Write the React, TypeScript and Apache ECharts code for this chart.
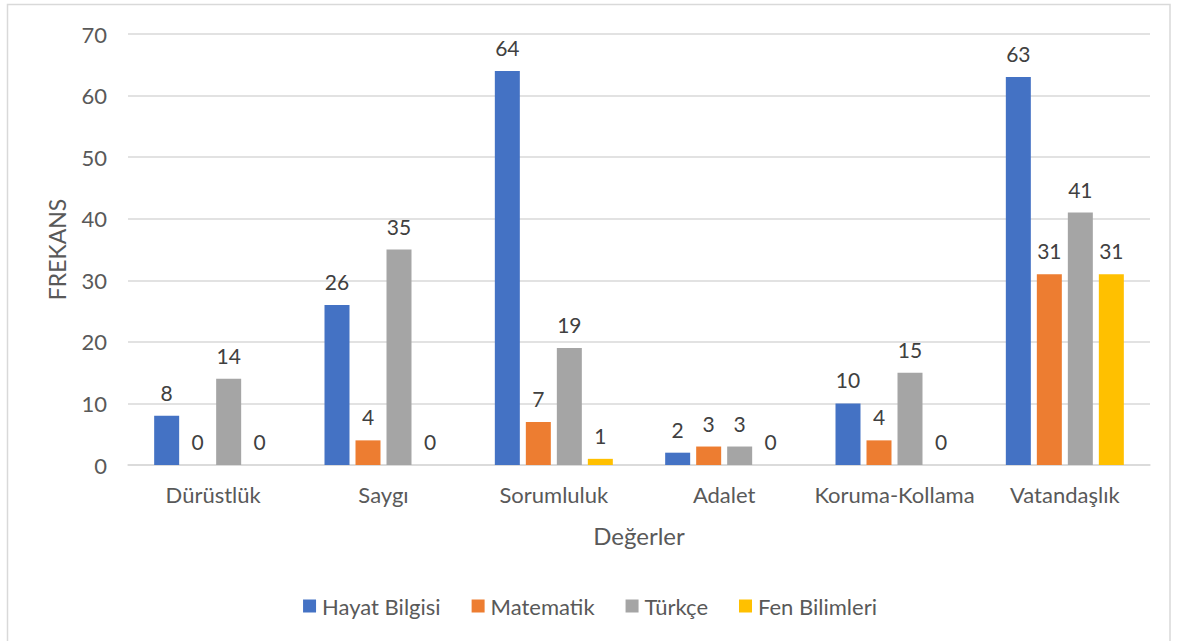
import React, { useEffect, useRef } from "react";
import * as echarts from "echarts";

const categories = ["Dürüstlük", "Saygı", "Sorumluluk", "Adalet", "Koruma-Kollama", "Vatandaşlık"];
const hayatBilgisi = [8, 26, 64, 2, 10, 63];
const matematik = [0, 4, 7, 3, 4, 31];
const turkce = [14, 35, 19, 3, 15, 41];
const fenBilimleri = [0, 0, 1, 0, 0, 31];
const seriesNames = ["Hayat Bilgisi", "Matematik", "Türkçe", "Fen Bilimleri"];
const colors = ["#4472C4", "#ED7D31", "#A5A5A5", "#FFC000"];

const FONT = "Lato, 'Open Sans', sans-serif";

export default function App() {
  const ref = useRef<HTMLDivElement>(null);
  useEffect(() => {
    document.body.style.margin = "0";
    const chart = echarts.init(ref.current!, null, { renderer: "svg" });
    const data = [hayatBilgisi, matematik, turkce, fenBilimleri];
    chart.setOption({
      animation: false,
      backgroundColor: "#ffffff",
      textStyle: { fontFamily: FONT },
      grid: { left: 128, right: 30, top: 34, bottom: 176, containLabel: false },
      legend: {
        top: 590,
        left: "center",
        itemWidth: 13,
        itemHeight: 13,
        itemGap: 31,
        icon: "rect",
        textStyle: { fontSize: 22, color: "#595959", fontFamily: FONT, padding: [0, 0, 0, 1] },
        data: seriesNames,
      },
      xAxis: {
        type: "category",
        data: categories,
        name: "Değerler",
        nameLocation: "middle",
        nameGap: 58,
        nameTextStyle: { fontSize: 24, color: "#595959", fontFamily: FONT },
        axisLine: { lineStyle: { color: "#D9D9D9", width: 1.5 } },
        axisTick: { show: false },
        axisLabel: { interval: 0, fontSize: 22, color: "#595959", margin: 18, fontFamily: FONT },
      },
      yAxis: {
        type: "value",
        min: 0,
        max: 70,
        interval: 10,
        name: "FREKANS",
        nameLocation: "middle",
        nameGap: 60,
        nameTextStyle: { fontSize: 23, color: "#595959", fontFamily: FONT },
        axisLine: { show: false },
        axisTick: { show: false },
        splitLine: { lineStyle: { color: "#D9D9D9", width: 1.5 } },
        axisLabel: { fontSize: 22, color: "#595959", margin: 21, fontFamily: FONT },
      },
      graphic: [
        {
          type: "rect",
          shape: { x: 7.5, y: 4.5, width: 1162.5, height: 700 },
          style: { fill: "none", stroke: "#D9D9D9", lineWidth: 1.5 },
          silent: true,
        },
      ],
      series: seriesNames.map((name, i) => ({
        name,
        type: "bar",
        data: data[i],
        barWidth: 25,
        barGap: "24%",
        itemStyle: { color: colors[i] },
        label: {
          show: true,
          position: "top",
          distance: 13,
          fontSize: 21,
          color: "#404040",
          fontFamily: FONT,
        },
      })),
    });
    return () => chart.dispose();
  }, []);
  return <div ref={ref} style={{ width: 1180, height: 641 }} />;
}
